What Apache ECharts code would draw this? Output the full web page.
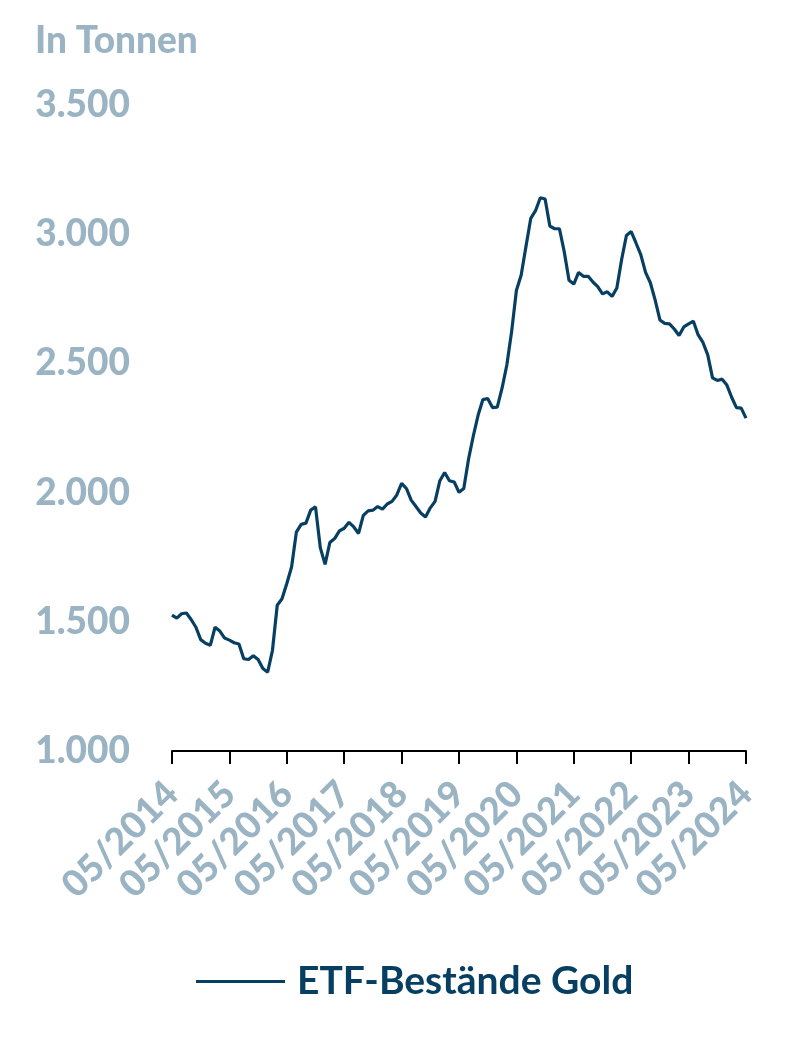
<!DOCTYPE html>
<html>
<head>
<meta charset="utf-8">
<script src="https://cdn.jsdelivr.net/npm/echarts@6/dist/echarts.min.js"></script>
<style>
html,body{margin:0;padding:0;background:#fff;}
#chart{width:811px;height:1039px;}
</style>
</head>
<body>
<div id="chart"></div>
<script>
// Monthly ETF gold holdings (tonnes), 05/2014 .. 05/2024
var startYear = 2014, startMonth = 5;
var seriesName = 'ETF-Bestände Gold';
var unitLabel = 'In Tonnen';
var yTicks = [1000, 1500, 2000, 2500, 3000, 3500];
var holdings = [
  1526, 1514, 1531, 1534, 1509, 1479, 1431, 1417, 1409, 1479, 1464, 1437,
  1429, 1419, 1414, 1357, 1354, 1369, 1354, 1319, 1305, 1389, 1564, 1589,
  1648, 1712, 1847, 1877, 1882, 1932, 1945, 1787, 1722, 1807, 1822, 1852,
  1862, 1885, 1867, 1842, 1912, 1929, 1932, 1946, 1936, 1956, 1966, 1991,
  2036, 2016, 1971, 1946, 1921, 1906, 1941, 1966, 2046, 2078, 2046, 2041,
  2001, 2016, 2130, 2220, 2300, 2360, 2364, 2329, 2331, 2404, 2494, 2623,
  2782, 2842, 2952, 3061, 3091, 3141, 3136, 3031, 3021, 3021, 2932, 2822,
  2807, 2852, 2837, 2837, 2815, 2797, 2769, 2777, 2759, 2792, 2902, 2995,
  3010, 2966, 2921, 2852, 2812, 2746, 2668, 2655, 2653, 2633, 2608, 2641,
  2653, 2663, 2610, 2581, 2533, 2444, 2434, 2439, 2416, 2369, 2329, 2327,
  2288
];
var months = [];
for (var i = 0; i < holdings.length; i++) {
  var mm = (startMonth - 1 + i) % 12 + 1;
  var yy = startYear + Math.floor((startMonth - 1 + i) / 12);
  months.push((mm < 10 ? '0' + mm : '' + mm) + '/' + yy);
}
var labelColor = '#9bb4c4';
var lineColor = '#073f62';
var fontFam = 'Lato, "Noto Sans", sans-serif';

var chart = echarts.init(document.getElementById('chart'), null, {renderer: 'canvas'});
chart.setOption({
  animation: false,
  backgroundColor: '#ffffff',
  title: {
    text: unitLabel,
    left: 30, top: 18,
    textStyle: {color: labelColor, fontFamily: fontFam, fontWeight: 900, fontSize: 37}
  },
  grid: {left: 172, right: 65, top: 105, bottom: 288, containLabel: false},
  legend: {
    data: [seriesName],
    left: 196, top: 962, padding: 0,
    icon: 'rect', itemWidth: 89, itemHeight: 3,
    textStyle: {color: lineColor, fontFamily: fontFam, fontWeight: 'bold', fontSize: 39, padding: [0, 0, 0, 7]}
  },
  xAxis: {
    type: 'category',
    data: months,
    boundaryGap: false,
    axisLine: {show: true, lineStyle: {color: '#000', width: 2}},
    axisTick: {show: true, interval: 11, length: 13, lineStyle: {color: '#000', width: 2}},
    axisLabel: {
      interval: 11, rotate: 45, margin: 37,
      color: labelColor, fontFamily: fontFam, fontWeight: 900, fontSize: 37
    },
    splitLine: {show: false}
  },
  yAxis: {
    type: 'value',
    min: yTicks[0], max: yTicks[yTicks.length - 1], interval: 500,
    axisLine: {show: false}, axisTick: {show: false}, splitLine: {show: false},
    axisLabel: {
      margin: 42, color: labelColor, fontFamily: fontFam, fontWeight: 900, fontSize: 37,
      formatter: function (v) { return String(v).replace(/\B(?=(\d{3})+(?!\d))/g, '.'); }
    }
  },
  series: [{
    name: seriesName,
    type: 'line',
    data: holdings,
    symbol: 'none',
    lineStyle: {color: lineColor, width: 3.2},
    itemStyle: {color: lineColor}
  }]
});
</script>
</body>
</html>
